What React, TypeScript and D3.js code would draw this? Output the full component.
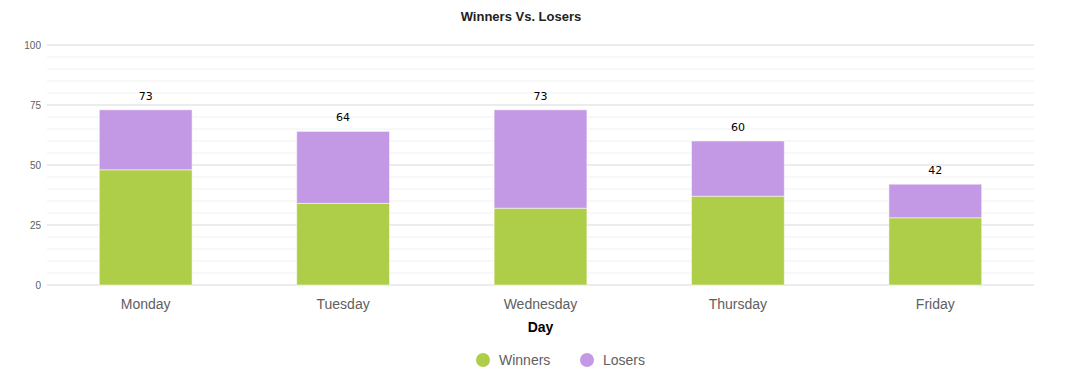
import React, { useRef, useEffect } from "react";
import * as d3 from "d3";

const days = ["Monday", "Tuesday", "Wednesday", "Thursday", "Friday"];
const winners = [48, 34, 32, 37, 28];
const losers = [25, 30, 41, 23, 14];
const seriesNames = ["Winners", "Losers"];
const yTicks = [0, 25, 50, 75, 100];

const App = () => {
  const ref = useRef<SVGSVGElement>(null);

  useEffect(() => {
    const width = 1065;
    const height = 391;
    const margin = { top: 45, right: 31, bottom: 106, left: 47 };
    const colors = ["#aecd49", "#c399e6"];

    const svg = d3.select(ref.current).attr("width", width).attr("height", height);
    svg.selectAll("*").remove();

    const x = d3
      .scaleBand()
      .domain(days)
      .range([margin.left, width - margin.right])
      .paddingInner(0.53)
      .paddingOuter(0.265);

    const y = d3
      .scaleLinear()
      .domain([0, 100])
      .range([height - margin.bottom, margin.top]);

    // minor grid
    svg
      .append("g")
      .selectAll("line")
      .data(d3.range(0, 101, 5).filter((v) => v % 25 !== 0))
      .enter()
      .append("line")
      .attr("x1", margin.left)
      .attr("x2", width - margin.right)
      .attr("y1", (d) => y(d))
      .attr("y2", (d) => y(d))
      .attr("stroke", "#f6f6f6")
      .attr("stroke-width", 1.5);

    // major grid
    svg
      .append("g")
      .selectAll("line")
      .data(yTicks)
      .enter()
      .append("line")
      .attr("x1", margin.left)
      .attr("x2", width - margin.right)
      .attr("y1", (d) => y(d))
      .attr("y2", (d) => y(d))
      .attr("stroke", "#ececec")
      .attr("stroke-width", 2);

    svg
      .append("g")
      .selectAll("text")
      .data(yTicks)
      .enter()
      .append("text")
      .attr("x", margin.left - 6)
      .attr("y", (d) => y(d))
      .attr("dy", "0.35em")
      .attr("text-anchor", "end")
      .attr("font-size", "10px")
      .style("font-family", "Liberation Sans, Arial, sans-serif")
      .attr("fill", "#606060")
      .text((d) => d);

    const table = days.map((d, i) => ({ day: d, Winners: winners[i], Losers: losers[i] }));
    const stacked = d3.stack<any>().keys(seriesNames)(table);

    stacked.forEach((layer, li) => {
      svg
        .append("g")
        .selectAll("rect")
        .data(layer)
        .enter()
        .append("rect")
        .attr("x", (d) => x(d.data.day)!)
        .attr("width", x.bandwidth())
        .attr("y", (d) => y(d[1]))
        .attr("height", (d) => y(d[0]) - y(d[1]))
        .attr("fill", colors[li])
        .attr("stroke", "rgba(255,255,255,0.5)")
        .attr("stroke-width", 1);
    });

    svg
      .append("g")
      .selectAll("text")
      .data(table)
      .enter()
      .append("text")
      .attr("x", (d) => x(d.day)! + x.bandwidth() / 2)
      .attr("y", (d) => y(d.Winners + d.Losers) - 10)
      .attr("text-anchor", "middle")
      .attr("font-size", "11px")
      .style("font-family", "DejaVu Sans, sans-serif")
      .attr("fill", "#000")
      .text((d) => d.Winners + d.Losers);

    svg
      .append("g")
      .selectAll("text")
      .data(days)
      .enter()
      .append("text")
      .attr("x", (d) => x(d)! + x.bandwidth() / 2)
      .attr("y", height - margin.bottom + 24)
      .attr("text-anchor", "middle")
      .attr("font-size", "14px")
      .style("font-family", "Liberation Sans, Arial, sans-serif")
      .attr("fill", "#606060")
      .text((d) => d);

    svg
      .append("text")
      .attr("x", (margin.left + width - margin.right) / 2)
      .attr("y", 332)
      .attr("text-anchor", "middle")
      .attr("font-size", "14px")
      .attr("font-weight", "bold")
      .style("font-family", "Liberation Sans, Arial, sans-serif")
      .attr("fill", "#000")
      .text("Day");

    svg
      .append("text")
      .attr("x", 521)
      .attr("y", 21)
      .attr("text-anchor", "middle")
      .attr("font-size", "13px")
      .attr("font-weight", "bold")
      .style("font-family", "Liberation Sans, Arial, sans-serif")
      .attr("fill", "#222")
      .text("Winners Vs. Losers");

    const legendX = [483, 587];
    seriesNames.forEach((name, i) => {
      const g = svg.append("g").attr("transform", `translate(${legendX[i]},360)`);
      g.append("circle").attr("r", 7).attr("fill", colors[i]);
      g.append("text")
        .attr("x", 16)
        .attr("dy", "0.35em")
        .attr("font-size", "14px")
        .style("font-family", "Liberation Sans, Arial, sans-serif")
        .attr("fill", "#606060")
        .text(name);
    });
  }, []);

  return <svg ref={ref} style={{ position: "absolute", left: 0, top: 0 }}></svg>;
};

export default App;
